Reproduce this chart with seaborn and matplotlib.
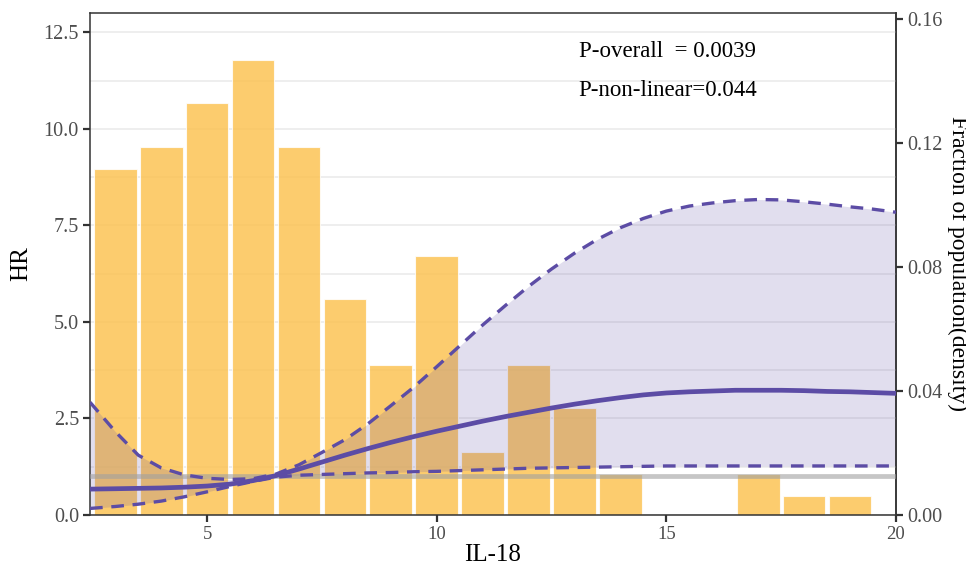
import numpy as np
import pandas as pd
import matplotlib
matplotlib.use("Agg")
import matplotlib.pyplot as plt
from matplotlib.ticker import MultipleLocator, FormatStrFormatter
import seaborn as sns

# histogram of IL-18 (fraction of population per unit bin)
bin_centers = [3, 4, 5, 6, 7, 8, 9, 10, 11, 12, 13, 14, 15, 16, 17, 18, 19]
fraction = [0.1116, 0.1188, 0.1328, 0.1468, 0.1188, 0.0696, 0.0484, 0.0836,
            0.0203, 0.0484, 0.0344, 0.0132, 0.0, 0.0, 0.0132, 0.0061, 0.0061]

# restricted cubic spline: HR with 95% CI
il18 = [2.45, 3.0, 3.5, 4.0, 4.5, 5.0, 5.5, 6.0, 6.5, 7.0, 7.5, 8.0, 8.5, 9.0,
        9.5, 10.0, 10.5, 11.0, 11.5, 12.0, 12.5, 13.0, 13.5, 14.0, 14.5, 15.0,
        15.5, 16.0, 16.5, 17.0, 17.5, 18.0, 18.5, 19.0, 19.5, 20.0]
hr = [0.67, 0.68, 0.69, 0.70, 0.72, 0.75, 0.80, 0.89, 1.02, 1.19, 1.37, 1.55,
      1.72, 1.88, 2.03, 2.17, 2.30, 2.43, 2.55, 2.66, 2.77, 2.87, 2.96, 3.04,
      3.11, 3.16, 3.19, 3.21, 3.23, 3.23, 3.23, 3.22, 3.20, 3.19, 3.17, 3.15]
hr_upper = [2.92, 2.16, 1.55, 1.22, 1.04, 0.95, 0.92, 0.94, 1.06, 1.30, 1.62,
            1.95, 2.36, 2.83, 3.31, 3.84, 4.38, 4.92, 5.43, 5.92, 6.37, 6.78,
            7.14, 7.44, 7.68, 7.87, 8.00, 8.08, 8.14, 8.17, 8.16, 8.11, 8.05,
            7.98, 7.92, 7.84]
hr_lower = [0.17, 0.22, 0.28, 0.36, 0.47, 0.60, 0.74, 0.87, 0.98, 1.03, 1.05,
            1.07, 1.09, 1.10, 1.12, 1.13, 1.15, 1.17, 1.19, 1.21, 1.22, 1.23,
            1.24, 1.25, 1.26, 1.27, 1.27, 1.27, 1.27, 1.27, 1.27, 1.27, 1.27,
            1.27, 1.27, 1.27]

p_overall = "P-overall  = 0.0039"
p_nonlinear = "P-non-linear=0.044"

hr_max = 13.0
dens_max = 0.162
scale = hr_max / dens_max

bar_col = "#fcc04a"
line_col = "#5c4ca5"
dark = "#333333"

sns.set_theme(style="ticks")
plt.rcParams["font.family"] = ["Liberation Serif", "DejaVu Serif"]

fig = plt.figure(figsize=(9.66, 5.70), dpi=100)
ax = fig.add_axes([0.0932, 0.0965, 0.8343, 0.8807])

hist_df = pd.DataFrame({"x": bin_centers, "h": np.array(fraction) * scale})
curve_df = pd.DataFrame({"x": il18, "hr": hr, "up": hr_upper, "lo": hr_lower})

sns.barplot(data=hist_df, x="x", y="h", native_scale=True, width=0.93,
            color=bar_col, alpha=0.8, edgecolor="white", linewidth=0.8,
            saturation=1, ax=ax, zorder=1)

ax.fill_between(curve_df["x"], curve_df["lo"], curve_df["up"],
                color=line_col, alpha=0.18, linewidth=0, zorder=2)
ax.axhline(1, color="#a0a0a0", alpha=0.6, linewidth=3.4, zorder=3)

dash = (0, (3.8, 2.6))
sns.lineplot(data=curve_df, x="x", y="up", color=line_col, linewidth=2.4,
             linestyle=dash, ax=ax, zorder=4)
sns.lineplot(data=curve_df, x="x", y="lo", color=line_col, linewidth=2.4,
             linestyle=dash, ax=ax, zorder=4)
sns.lineplot(data=curve_df, x="x", y="hr", color=line_col, linewidth=3.4,
             ax=ax, zorder=5)

ax.set_xlim(2.45, 20.0)
ax.set_ylim(0, hr_max)
ax.xaxis.set_major_locator(MultipleLocator(5))
ax.yaxis.set_major_locator(MultipleLocator(2.5))
ax.yaxis.set_minor_locator(MultipleLocator(1.25))
ax.yaxis.set_major_formatter(FormatStrFormatter("%.1f"))
ax.set_axisbelow(True)
ax.grid(False)
ax.grid(axis="y", which="both", color="#ebebeb", linewidth=1.2)

for s in ax.spines.values():
    s.set_visible(True)
    s.set_color(dark)
    s.set_linewidth(1.1)

ax.tick_params(axis="both", which="major", length=5, width=1.6, color=dark,
               labelcolor="#4d4d4d", pad=3)
ax.tick_params(axis="x", labelsize=13.5)
ax.tick_params(axis="y", labelsize=14.5)
ax.tick_params(axis="y", which="minor", length=0)
ax.set_xlabel("IL-18", fontsize=18, color="black", labelpad=1)
ax.set_ylabel("HR", fontsize=18, color="black", labelpad=8)

sec = ax.secondary_yaxis("right", functions=(lambda y: y / scale, lambda d: d * scale))
sec.set_yticks([0.0, 0.04, 0.08, 0.12, 0.16])
sec.yaxis.set_major_formatter(FormatStrFormatter("%.2f"))
sec.tick_params(length=5, width=1.6, color=dark, labelsize=14.5,
                labelcolor="#4d4d4d", pad=3)
sec.spines["right"].set_color(dark)
sec.spines["right"].set_linewidth(1.1)
sec.set_ylabel("Fraction of population(density)", fontsize=17, rotation=270,
               va="bottom", labelpad=3, color="black")

ax.text(15.02, 12.0, p_overall, ha="center", va="center", fontsize=16.5, color="black")
ax.text(15.02, 11.0, p_nonlinear, ha="center", va="center", fontsize=16.5, color="black")

fig.savefig("out.png", dpi=100)
